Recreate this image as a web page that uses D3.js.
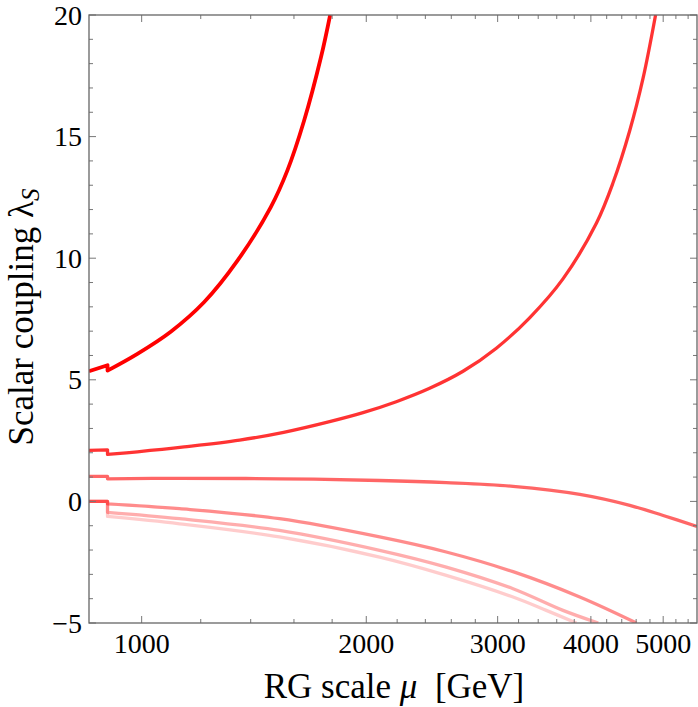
<!DOCTYPE html>
<html lang="en">
<head>
  <meta charset="UTF-8">
  <title>Scalar coupling running</title>
  <script src="https://d3js.org/d3.v7.min.js"></script>
  <style>
    body { margin: 0; background: #fff; }
    svg { display: block; font-family: "Liberation Serif", "DejaVu Serif", serif; }
    .frame { fill: none; stroke: #666; stroke-width: 1.3; }
    .tick { stroke: #777; stroke-width: 1; }
    .ticklabel { font-size: 28px; fill: #000; }
    .title { font-size: 35px; fill: #000; }
  </style>
</head>
<body>
  <svg id="chart"></svg>

  <script>
    // RG scale mu [GeV] vs lambda_S; the repeated mu = 900
    // entry is the threshold where each curve jumps
    const curve1 = [[850, 5.35], [900, 5.6], [900, 5.38], [987, 6.07], [1094, 6.98], [1213, 8.2],
                    [1344, 9.9], [1489, 12.09], [1568, 13.61], [1651, 15.66], [1739, 18.26], [1789, 20]];
    const curve2 = [[850, 2.1], [900, 2.12], [900, 1.93], [987, 2.04], [1140, 2.24], [1353, 2.52],
                    [1550, 2.84], [1786, 3.28], [1980, 3.65], [2194, 4.1], [2432, 4.65], [2696, 5.35],
                    [2988, 6.3], [3311, 7.55], [3670, 9.15], [4070, 11.45], [4283, 13.1],
                    [4510, 15.25], [4699, 17.4], [4884, 20]];
    const curve3 = [[850, 1.03], [900, 1.03], [900, 0.93], [1124, 0.95], [1530, 0.93], [2084, 0.86],
                    [2560, 0.77], [3146, 0.62], [3865, 0.29], [4510, -0.16], [5000, -0.58], [5550, -1.03]];
    const curve4 = [[850, 0], [900, 0], [900, -0.1], [1124, -0.3], [1530, -0.71], [2084, -1.46],
                    [2560, -2.08], [3146, -2.89], [3865, -3.93], [4605, -5]];
    const curve5 = [[850, 0], [900, 0], [900, -0.45], [1124, -0.71], [1530, -1.19], [2084, -2.01],
                    [2560, -2.7], [3146, -3.59], [3670, -4.48], [4092, -5]];
    const curve6 = [[850, 0], [900, 0], [900, -0.62], [1124, -0.92], [1530, -1.46], [2084, -2.29],
                    [2560, -3.04], [3146, -3.93], [3486, -4.48], [3825, -5]];

    const allCurves = [curve1, curve2, curve3, curve4, curve5, curve6];
    const curveOpacity = [1, 0.8, 0.6, 0.45, 0.32, 0.2];
    const curveWidth = [3.8, 3.3, 3.3, 3.3, 3.3, 3.3];

    const xMajor = [1000, 2000, 3000, 4000, 5000];
    const xMinor = d3.range(1200, 5600, 200).filter(v => v % 1000 !== 0);
    const yMajor = [-5, 0, 5, 10, 15, 20];
    const yMinor = d3.range(-5, 21, 1).filter(v => v % 5 !== 0);

    const width = 698, height = 707;
    const plotLeft = 89, plotRight = 697, plotTop = 15, plotBottom = 623;

    const svg = d3.select("#chart").attr("width", width).attr("height", height);

    const x = d3.scaleLog().domain([850, 5550]).range([plotLeft, plotRight]);
    const y = d3.scaleLinear().domain([-5, 20]).range([plotBottom, plotTop]);

    svg.append("clipPath").attr("id", "plotclip")
       .append("rect")
       .attr("x", plotLeft).attr("y", plotTop)
       .attr("width", plotRight - plotLeft).attr("height", plotBottom - plotTop);

    // curves: straight up to the threshold jump, smooth after it
    const linePre = d3.line().x(d => x(d[0])).y(d => y(d[1]));
    const linePost = d3.line().x(d => x(d[0])).y(d => y(d[1])).curve(d3.curveCatmullRom.alpha(0.5));

    const curveGroup = svg.append("g").attr("clip-path", "url(#plotclip)");
    allCurves.forEach((pts, i) => {
      let k = 1;
      while (k < pts.length && pts[k][0] !== pts[k - 1][0]) k++;
      const path = linePre(pts.slice(0, k + 1)) + linePost(pts.slice(k)).replace(/^M/, "L");
      curveGroup.append("path")
        .attr("d", path)
        .attr("fill", "none")
        .attr("stroke", "#ff0000")
        .attr("stroke-opacity", curveOpacity[i])
        .attr("stroke-width", curveWidth[i])
        .attr("stroke-linejoin", "round");
    });

    // ticks on all four sides, pointing inward
    const ticks = svg.append("g");
    const addX = (vals, len) => vals.forEach(v => {
      ticks.append("line").attr("class", "tick")
        .attr("x1", x(v)).attr("x2", x(v)).attr("y1", plotBottom).attr("y2", plotBottom - len);
      ticks.append("line").attr("class", "tick")
        .attr("x1", x(v)).attr("x2", x(v)).attr("y1", plotTop).attr("y2", plotTop + len);
    });
    const addY = (vals, len) => vals.forEach(v => {
      ticks.append("line").attr("class", "tick")
        .attr("x1", plotLeft).attr("x2", plotLeft + len).attr("y1", y(v)).attr("y2", y(v));
      ticks.append("line").attr("class", "tick")
        .attr("x1", plotRight).attr("x2", plotRight - len).attr("y1", y(v)).attr("y2", y(v));
    });
    addX(xMajor, 7); addX(xMinor, 4);
    addY(yMajor, 7); addY(yMinor, 4);

    svg.append("rect").attr("class", "frame")
       .attr("x", plotLeft).attr("y", plotTop)
       .attr("width", plotRight - plotLeft).attr("height", plotBottom - plotTop);

    svg.selectAll(".xlab")
       .data(xMajor)
       .enter().append("text")
       .attr("class", "ticklabel")
       .attr("x", d => x(d))
       .attr("y", 653)
       .attr("text-anchor", "middle")
       .text(d => d);

    svg.selectAll(".ylab")
       .data(yMajor)
       .enter().append("text")
       .attr("class", "ticklabel")
       .attr("x", 82)
       .attr("y", d => y(d))
       .attr("dy", "0.34em")
       .attr("text-anchor", "end")
       .text(d => d < 0 ? "\u2212" + Math.abs(d) : d);

    const xt = svg.append("text").attr("class", "title")
       .attr("x", (plotLeft + plotRight) / 2 + 1).attr("y", 698)
       .attr("text-anchor", "middle");
    xt.append("tspan").text("RG scale ");
    xt.append("tspan").attr("font-style", "italic").text("\u03bc");
    xt.append("tspan").text("\u00a0 [GeV]");

    const yt = svg.append("text").attr("class", "title")
       .attr("transform", `translate(33,${(plotTop + plotBottom) / 2 - 2}) rotate(-90)`)
       .attr("text-anchor", "middle");
    yt.append("tspan").text("Scalar coupling \u03bb");
    yt.append("tspan").attr("font-style", "italic").attr("font-size", "25px").attr("dy", 6).text("S");
  </script>
</body>
</html>
